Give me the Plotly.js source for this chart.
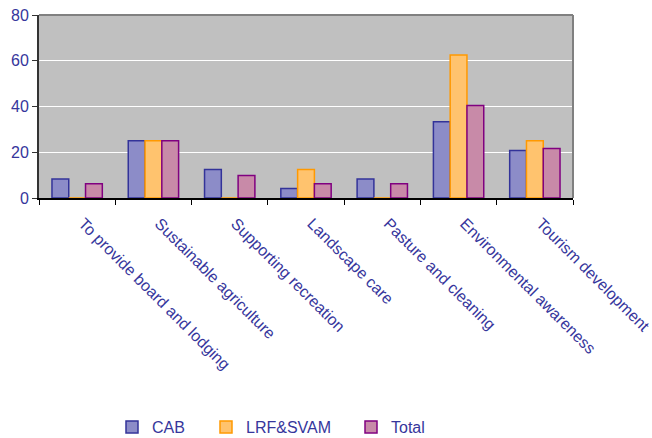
<!DOCTYPE html>
<html>
<head>
<meta charset="utf-8">
<script src="https://cdn.plot.ly/plotly-3.0.1.min.js"></script>
<style>
  html, body { margin: 0; padding: 0; background: #ffffff; }
  #chart { width: 652px; height: 438px; }
</style>
</head>
<body>
<div id="chart"></div>
<script>
// Purposes of the activities, share per respondent group
var categories = [
  "To provide board and lodging",
  "Sustainable agriculture",
  "Supporting recreation",
  "Landscape care",
  "Pasture and cleaning",
  "Environmental awareness",
  "Tourism development"
];
var cab      = [8.3, 25, 12.5, 4.2, 8.3, 33.3, 20.8];
var lrfSvam  = [0, 25, 0, 12.5, 0, 62.5, 25];
var total    = [6.2, 25, 9.8, 6.2, 6.2, 40.4, 21.6];
var yTicks   = [0, 20, 40, 60, 80];

var textColor = "#36369c";
var family = "Liberation Sans, Arial, sans-serif";
var xTickFont = { family: family, size: 16, color: textColor };
var yTickFont = { family: family, size: 16, color: textColor };
var legendFont = { family: family, size: 16, color: textColor };

var traces = [
  { name: "CAB", y: cab, legend: "legend",
    marker: { color: "#8c8cc8", line: { color: "#333399", width: 1.5 } } },
  { name: "LRF&SVAM", y: lrfSvam, legend: "legend2",
    marker: { color: "#ffc36e", line: { color: "#ff9900", width: 1.5 } } },
  { name: "Total", y: total, legend: "legend3",
    marker: { color: "#c88aa8", line: { color: "#800080", width: 1.5 } } }
].map(function (t) {
  return {
    type: "bar", x: categories, y: t.y, name: t.name, legend: t.legend,
    marker: t.marker, hoverinfo: "x+y+name"
  };
});

function legendAt(x) {
  return {
    xref: "container", yref: "container", x: x, y: 11 / 438,
    xanchor: "left", yanchor: "middle", orientation: "h",
    bgcolor: "rgba(0,0,0,0)", font: legendFont
  };
}

var layout = {
  width: 652, height: 438,
  margin: { l: 39, r: 79, t: 15, b: 240 },
  paper_bgcolor: "#ffffff",
  plot_bgcolor: "#c0c0c0",
  font: xTickFont,
  barmode: "group",
  bargap: 0.34,
  bargroupgap: 0,
  showlegend: true,
  legend: legendAt(112 / 652),
  legend2: legendAt(206 / 652),
  legend3: legendAt(351 / 652),
  xaxis: {
    type: "category",
    tickangle: 45,
    tickson: "boundaries",
    ticks: "outside", ticklen: 5, tickcolor: "#000000", tickwidth: 1,
    ticklabelstandoff: 8,
    ticklabelshift: 6,
    showline: true, linecolor: "#000000", linewidth: 2,
    showgrid: false,
    tickfont: xTickFont,
    automargin: false
  },
  yaxis: {
    range: [0, 80],
    tickvals: yTicks,
    ticktext: yTicks.map(String),
    ticks: "outside", ticklen: 5, tickcolor: "#333333", tickwidth: 1,
    showline: true, linecolor: "#333333", linewidth: 2,
    showgrid: true, gridcolor: "#ffffff", gridwidth: 1,
    zeroline: false,
    tickfont: yTickFont,
    automargin: false
  },
  shapes: [
    { type: "line", xref: "paper", yref: "paper", x0: 0, x1: 1, y0: 1, y1: 1,
      line: { color: "#808080", width: 2 } },
    { type: "line", xref: "paper", yref: "paper", x0: 1, x1: 1, y0: 0, y1: 1,
      line: { color: "#808080", width: 2 } }
  ]
};

Plotly.newPlot("chart", traces, layout, { displayModeBar: false, staticPlot: true });
</script>
</body>
</html>
